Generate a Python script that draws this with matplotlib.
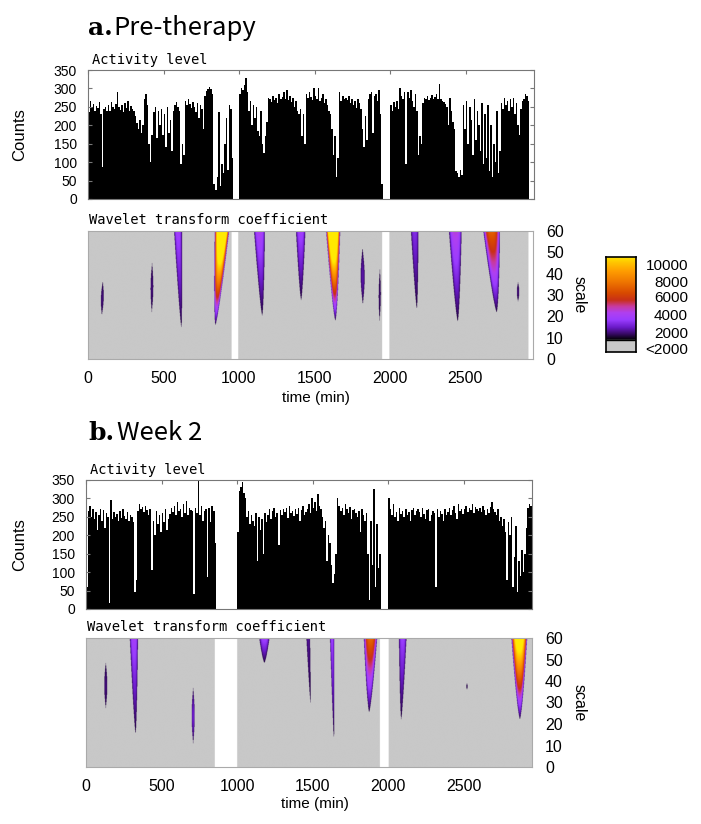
import numpy as np
import matplotlib
matplotlib.use("Agg")
import matplotlib.pyplot as plt
from matplotlib.colors import LinearSegmentedColormap, Normalize

plt.rcParams["font.family"] = ["Liberation Sans", "DejaVu Sans"]

# ---- data -------------------------------------------------------------
bin_min = 10          # activity counts, one value per 10-minute bin
t_end = 2950

act_pre = [
    235, 265, 250, 258, 240, 252, 248, 262, 230, 88,
    245, 250, 240, 255, 238, 262, 250, 244, 258, 290,
    250, 242, 255, 236, 260, 248, 265, 240, 252, 245,
    238, 225, 205, 190, 215, 178, 200, 272, 285, 255,
    150, 100, 175, 235, 250, 165, 240, 200, 245, 175,
    230, 140, 250, 180, 215, 130, 240, 255, 262, 250,
    240, 95, 150, 120, 265, 255, 270, 258, 248, 262,
    250, 235, 260, 220, 255, 245, 190, 280, 292, 298,
    305, 298, 285, 40, 25, 60, 235, 35, 95, 70,
    150, 220, 80, 255, 245, 110, 0, 0, 0, 0,
    285, 300, 295, 310, 328, 290, 240, 265, 200, 255,
    220, 250, 185, 170, 240, 150, 125, 170, 210, 275,
    270, 262, 280, 268, 275, 260, 285, 270, 278, 290,
    272, 295, 268, 280, 262, 275, 250, 265, 240, 230,
    245, 170, 230, 150, 285, 275, 290, 278, 268, 300,
    280, 270, 302, 265, 275, 285, 260, 270, 255, 240,
    230, 190, 120, 170, 60, 110, 290, 265, 280, 270,
    275, 268, 280, 260, 272, 255, 265, 248, 270, 260,
    245, 190, 140, 225, 160, 270, 285, 290, 180, 280,
    285, 265, 295, 230, 40, 0, 0, 0, 0, 0,
    255, 240, 262, 250, 265, 245, 300, 280, 270, 290,
    95, 290, 275, 295, 265, 250, 285, 240, 120, 170,
    150, 260, 275, 270, 280, 268, 275, 282, 270, 278,
    285, 272, 312, 270, 265, 262, 258, 250, 200, 275,
    240, 210, 190, 75, 70, 60, 80, 65, 255, 190,
    265, 150, 250, 215, 120, 270, 160, 240, 200, 130,
    260, 95, 230, 110, 255, 75, 200, 60, 150, 100,
    240, 70, 130, 260, 245, 275, 255, 265, 240, 270,
    250, 275, 230, 260, 200, 175, 245, 265, 270, 285,
    280, 265, 0, 0, 0,
]

act_wk2 = [
    60, 265, 280, 250, 270, 245, 262, 215, 255, 270,
    240, 268, 220, 260, 250, 15, 297, 245, 262, 250,
    258, 240, 265, 248, 270, 252, 245, 262, 240, 255,
    250, 235, 45, 80, 265, 285, 270, 278, 262, 280,
    268, 255, 270, 105, 240, 200, 265, 230, 255, 210,
    260, 235, 270, 215, 245, 258, 275, 262, 280, 255,
    290, 265, 270, 250, 285, 260, 293, 255, 275, 268,
    265, 40, 275, 260, 360, 255, 280, 240, 265, 270,
    88, 275, 235, 280, 265, 180, 0, 0, 0, 0,
    0, 0, 0, 0, 0, 0, 0, 0, 0, 0,
    210, 320, 330, 345, 315, 300, 250, 265, 230, 255,
    240, 225, 260, 130, 250, 215, 245, 150, 260, 235,
    255, 270, 245, 265, 275, 250, 260, 175, 268, 255,
    270, 262, 275, 248, 280, 260, 265, 252, 270, 258,
    275, 240, 268, 280, 255, 262, 270, 285, 260, 300,
    275, 290, 265, 312, 280, 270, 250, 220, 240, 130,
    200, 180, 120, 70, 95, 150, 300, 280, 265, 275,
    255, 285, 270, 260, 278, 245, 268, 272, 260, 250,
    265, 210, 270, 255, 240, 260, 150, 25, 240, 120,
    325, 60, 230, 110, 150, 0, 0, 0, 0, 0,
    300, 270, 255, 285, 250, 262, 240, 275, 258, 265,
    250, 270, 255, 262, 240, 268, 275, 255, 265, 270,
    262, 250, 275, 258, 245, 268, 272, 240, 255, 265,
    260, 60, 270, 250, 265, 258, 240, 272, 255, 262,
    275, 255, 268, 280, 260, 245, 285, 265, 272, 258,
    270, 280, 262, 275, 268, 285, 260, 278, 270, 265,
    275, 262, 280, 268, 255, 272, 260, 278, 290, 270,
    262, 255, 270, 240, 250, 225, 245, 210, 80, 235,
    200, 250, 60, 140, 225, 45, 130, 90, 160, 100,
    150, 220, 275, 285, 280,
]

# wavelet ridges: time at top, time at tip (min), half width at top (min),
# lowest / highest scale, peak coefficient
pre_t_top = [98, 425, 597, 888, 1137, 1410, 1625, 1820, 1935, 2166, 2435, 2676, 2851]
pre_t_tip = [92, 423, 619, 845, 1155, 1413, 1640, 1822, 1933, 2180, 2451, 2709, 2851]
pre_hw = [9, 9, 26, 48, 36, 31, 47, 13, 7, 25, 42, 55, 8]
pre_s_lo = [20.5, 22, 15, 16, 20.5, 27.7, 18, 25.6, 18, 23.7, 17.8, 22, 27]
pre_s_hi = [36.5, 45, 60, 60, 60, 60, 60, 52, 42, 60, 60, 60, 36]
pre_peak = [2700, 2700, 4200, 14000, 4500, 4200, 14000, 3000, 2600, 3600, 4800, 7000, 2700]
pre_gaps = [(953, 997), (1950, 1998), (2920, 2950)]

wk2_t_top = [131, 317, 709, 1180, 1470, 1628, 1882, 2095, 2520, 2866]
wk2_t_tip = [131, 328, 709, 1180, 1485, 1640, 1873, 2085, 2520, 2870]
wk2_hw = [10, 27, 10, 34, 12, 14, 44, 25, 4, 52]
wk2_s_lo = [27.4, 15.7, 11, 48.5, 30, 13.4, 25.6, 22.3, 36, 22.3]
wk2_s_hi = [48.5, 60, 36.8, 60, 60, 60, 60, 60, 39, 60]
wk2_peak = [2700, 4300, 3300, 4200, 2900, 4000, 7200, 4000, 2500, 11500]
wk2_gaps = [(853, 1000), (1945, 2002)]

scale_max = 60
# -----------------------------------------------------------------------

W, H = 701, 824
fig = plt.figure(figsize=(W / 100, H / 100), dpi=100)


def fx(x):
    return x / W


def fy(y):
    return 1 - y / H


def box(l, t, r, b):
    return [fx(l), fy(b), (r - l) / W, (b - t) / H]


cmap = LinearSegmentedColormap.from_list("wt", [
    (0.000, "#000000"), (0.075, "#3a0a6a"), (0.150, "#6a1ac8"),
    (0.240, "#9a3cff"), (0.325, "#b040f0"), (0.400, "#c83aa0"),
    (0.475, "#c83018"), (0.560, "#d84a00"), (0.700, "#f07800"),
    (0.825, "#ff9e00"), (0.925, "#ffc600"), (1.000, "#ffea00")])
cmap.set_under("#c8c8c8")
cmap.set_over("#ffea00")
cmap.set_bad("white")
norm = Normalize(2000, 10000)
edge_val = 2350

t_grid = np.arange(0, t_end, 2.0) + 1.0
s_grid = np.arange(0, scale_max, 0.2) + 0.1
T, S = np.meshgrid(t_grid, s_grid)


def coef_map(t_top, t_tip, hw, s_lo, s_hi, peak, gaps):
    Z = np.zeros_like(T)
    for tt, tp, w, lo, hi, pk in zip(t_top, t_tip, hw, s_lo, s_hi, peak):
        frac = (S - lo) / (hi - lo)
        ok = (frac >= 0) & (frac <= 1)
        fr = np.clip(frac, 0, 1)
        if hi >= scale_max:
            width = w * fr ** 0.7
            vmax = edge_val + (pk - edge_val) * fr
        else:
            prof = np.sin(np.pi * fr)
            width = w * prof
            vmax = edge_val + (pk - edge_val) * prof
        centre = tp + (tt - tp) * fr
        r = np.abs(T - centre) / np.maximum(width, 1e-6)
        val = np.where(ok & (r < 1), edge_val + (vmax - edge_val) * (1 - r ** 3), 0)
        Z = np.maximum(Z, val)
    for a, b in gaps:
        Z[:, (t_grid >= a) & (t_grid < b)] = np.nan
    return Z


def activity(ax, vals):
    edges = np.arange(len(vals) + 1) * bin_min
    ax.stairs(vals, edges, fill=True, color="black", linewidth=0)
    ax.set_xlim(0, t_end)
    ax.set_ylim(0, 350)
    ax.set_yticks(range(0, 351, 50))
    ax.set_xticks(range(0, t_end, 500))
    ax.tick_params(direction="in", top=True, bottom=False, left=True, right=True,
                   labelbottom=False, length=3, color="#777", labelsize=10, pad=8)
    for sp in ax.spines.values():
        sp.set_color("#777")


def wavelet(ax, Z):
    ax.imshow(Z, cmap=cmap, norm=norm, origin="lower", aspect="auto",
              extent=[0, t_end, 0, scale_max], interpolation="antialiased")
    ax.set_xlim(0, t_end)
    ax.set_ylim(0, scale_max)
    ax.set_xticks(range(0, t_end, 500))
    ax.set_yticks(range(0, scale_max + 1, 10))
    ax.yaxis.tick_right()
    ax.tick_params(length=0, labelsize=11.5)
    ax.tick_params(axis="x", pad=8.3)
    ax.tick_params(axis="y", pad=9.4)
    for sp in ax.spines.values():
        sp.set_color("#aaaaaa")


mono = "DejaVu Sans Mono"
panels = [
    ("a.", "Pre-therapy", act_pre,
     coef_map(pre_t_top, pre_t_tip, pre_hw, pre_s_lo, pre_s_hi, pre_peak, pre_gaps),
     88, 35, 113, (88, 70, 534, 199), (88, 231, 533, 359), 398, 316),
    ("b.", "Week 2", act_wk2,
     coef_map(wk2_t_top, wk2_t_tip, wk2_hw, wk2_s_lo, wk2_s_hi, wk2_peak, wk2_gaps),
     88, 440, 117, (86, 480, 532, 609), (86, 638, 532, 767), 804, 315),
]

for lab, title, act, Z, lx, ly, tx, abox, wbox, time_y, time_x in panels:
    fig.text(fx(lx), fy(ly), lab, fontfamily="DejaVu Serif", fontweight="bold",
             fontsize=18, va="baseline")
    fig.text(fx(tx), fy(ly), title, fontfamily=["Noto Sans CJK JP", "DejaVu Sans"],
             fontsize=18.5, va="baseline")

    ax1 = fig.add_axes(box(*abox))
    activity(ax1, act)
    fig.text(fx(abox[0] + 4), fy(abox[1] - 6), "Activity level", fontfamily=mono,
             fontsize=9.9, va="baseline")
    fig.text(fx(20), fy((abox[1] + abox[3]) / 2), "Counts", rotation=90,
             ha="center", va="center", fontsize=12)

    ax2 = fig.add_axes(box(*wbox))
    wavelet(ax2, Z)
    fig.text(fx(wbox[0] + 1), fy(wbox[1] - 7), "Wavelet transform coefficient",
             fontfamily=mono, fontsize=9.9, va="baseline")
    fig.text(fx(time_x), fy(time_y), "time (min)", ha="center", va="center",
             fontsize=11)
    fig.text(fx(579), fy((wbox[1] + wbox[3]) / 2), "scale", rotation=-90,
             ha="center", va="center", fontsize=11.5)

# colour key
cax = fig.add_axes(box(606, 257, 636, 352))
gray_top = 0.126
grad = np.linspace(2000, 10000, 256).reshape(-1, 1)
cax.imshow(grad, cmap=cmap, norm=norm, origin="lower", aspect="auto",
           extent=[0, 1, gray_top, 1])
cax.axhspan(0, gray_top, color="#c8c8c8")
cax.axhline(gray_top, color="black", lw=1)
cax.set_xlim(0, 1)
cax.set_ylim(0, 1)
cax.set_xticks([])
cax.yaxis.tick_right()
cax.set_yticks([0.916, 0.747, 0.58, 0.40, 0.21, 0.032])
cax.set_yticklabels(["10000", "8000", "6000", "4000", "2000", "<2000"])
cax.tick_params(axis="y", length=0, pad=37.5, labelsize=11)
for t in cax.get_yticklabels():
    t.set_ha("right")
for sp in cax.spines.values():
    sp.set_color("black")
    sp.set_linewidth(1.2)

fig.savefig("out.png", dpi=100)
